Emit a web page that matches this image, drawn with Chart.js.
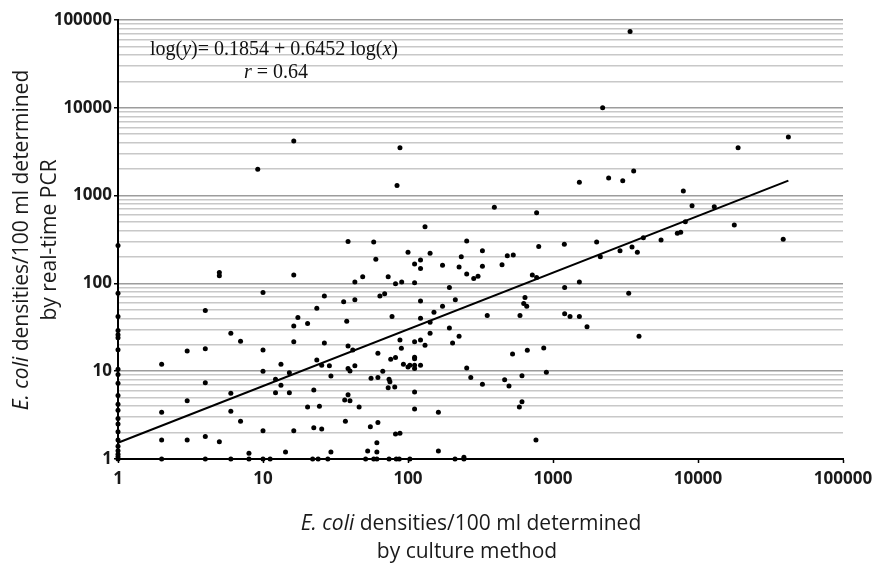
<!DOCTYPE html>
<html>
<head>
<meta charset="utf-8">
<script src="https://cdn.jsdelivr.net/npm/chart.js@4.4.1/dist/chart.umd.min.js"></script>
<style>
  html, body { margin: 0; padding: 0; background: #fff; }
  #wrap { width: 872px; height: 565px; position: relative; }
</style>
</head>
<body>
<div id="wrap"><canvas id="scatterChart"></canvas></div>
<script>
// E. coli densities/100 ml: culture method (x) vs real-time PCR (y)
var cultureDensity = [
  1, 1, 1, 1, 1, 1, 1, 1, 1, 1, 1, 1, 1, 1, 1, 1, 1, 1, 1, 1, 1, 1,
  2, 2, 2, 2, 3, 3, 3, 4, 4, 4, 4, 4, 5, 5, 5, 6, 6, 6, 6, 7, 7, 8, 8, 9.2,
  10, 10, 10, 10, 10, 11.2, 12.2, 12.2, 13.3, 13.3, 14.3, 15.2, 15.2, 16.3, 16.3, 16.3, 16.3, 16.3,
  17.4, 20.3, 20.3, 22.4, 22.4, 22, 23.5, 23.5, 24.5, 24, 25.4, 25.4, 26.5, 26.5, 28, 28.7, 29.4, 29.4,
  36, 36.6, 37, 37.8, 38.6, 38.6, 38.6, 38.6, 39.8, 39.8, 41.6, 43, 43, 43, 46, 48.7, 51, 52.7,
  55, 55.6, 58, 58, 60, 61, 61, 61, 62, 62, 62, 64, 69, 67, 73, 74, 75, 73, 81, 74,
  76, 82, 77.6, 82, 82, 83, 84, 87, 88, 88, 88, 90.5, 90, 93,
  100, 100, 103, 103, 111, 111, 111, 111, 111, 111, 111, 111, 111, 122, 122, 122, 122, 122, 122,
  131, 131, 142, 142, 142, 151, 162, 162, 173, 173, 193, 193, 203, 211, 212, 225, 225, 233, 243, 243,
  254, 254, 254, 271, 284, 304, 326, 326, 326, 352, 394, 445, 464, 497, 484, 532, 526, 586,
  611, 611, 592, 628, 641, 659, 665, 720, 771, 763, 771, 797, 863, 900,
  1197, 1203, 1203, 1310, 1520, 1520, 1520, 1716, 2000, 2120, 2200, 2420, 2898, 3027, 3327, 3400,
  3507, 3817, 3600, 3918, 4200, 5560, 7200, 7600, 7920, 8180, 9100, 12950, 17800, 18900, 38700, 42000
];
var pcrDensity = [
  270, 77, 42, 29, 26, 24, 17.6, 10.5, 9.2, 7.3, 5.3, 4.2, 3.6, 2.9, 2.5, 2.05, 1.65, 1.4, 1.24, 1.13, 1.06, 1,
  12, 3.4, 1.65, 1, 17, 4.6, 1.65, 49, 18, 7.4, 1.8, 1, 133, 122, 1.57, 27, 5.6, 3.5, 1, 22, 2.7, 1.16, 1, 2000,
  79, 17.4, 10, 2.1, 1, 1, 8.1, 5.7, 12, 6.9, 1.2, 9.6, 5.7, 4200, 125, 32.7, 21.7, 2.1,
  41, 35, 3.9, 6.1, 2.27, 1, 52, 13.4, 4.0, 1, 11.7, 2.2, 72, 21, 1, 11.5, 8.8, 1.2,
  62, 4.7, 2.7, 37, 300, 19.4, 10.7, 5.4, 10.05, 4.6, 17.4, 104, 65, 11.5, 3.9, 119, 1, 1.23,
  2.33, 8.3, 296, 1, 188, 1.53, 1.2, 1, 16, 8.5, 2.6, 72, 76, 10, 119, 8.1, 7.6, 6.5, 6.6, 1,
  13.7, 14.3, 42, 99, 1.93, 1, 1300, 1, 3500, 22.6, 1.96, 104, 18.2, 12,
  226, 11.2, 11.7, 1, 166, 102, 21.7, 14.4, 13.9, 11.7, 10.7, 5.8, 3.7, 185, 148, 63, 40, 22.6, 11.7,
  442, 19.7, 220, 36, 27, 47, 3.4, 1.23, 161, 55, 90, 31, 21, 1, 65, 154, 25, 201, 1, 1.05,
  304, 128, 10.9, 8.5, 114, 121, 236, 157, 7.1, 43, 735, 163, 8.0, 6.8, 207, 210, 15.7, 3.9,
  4.5, 8.9, 43, 59, 69, 55, 17.3, 125, 117, 1.65, 639, 264, 18.4, 9.7,
  279, 90, 45, 42, 1417, 104, 42, 32, 296, 201, 10000, 1585, 236, 1478, 77, 74000,
  260, 226, 1905, 25, 332, 312, 372, 382, 1128, 505, 767, 748, 462, 3500, 318, 4650
];
// regression line end points: log(y) = 0.1854 + 0.6452 log(x)
var fitX = [1, 42000];
var fitY = [1.53, 1480];
var decadeTicks = [1, 10, 100, 1000, 10000, 100000];

var points = cultureDensity.map(function (x, i) { return { x: x, y: pcrDensity[i] }; });
var fitLine = fitX.map(function (x, i) { return { x: x, y: fitY[i] }; });

// 1,2,...,9 of every decade for the horizontal grid
function minorTicks() {
  var out = [];
  decadeTicks.forEach(function (d, k) {
    if (k === decadeTicks.length - 1) { out.push({ value: d }); return; }
    for (var m = 1; m < 10; m++) out.push({ value: d * m });
  });
  return out;
}
function isDecade(v) { return decadeTicks.indexOf(v) !== -1; }

function drawRich(ctx, parts, cx, cy, size, family) {
  var total = 0;
  parts.forEach(function (p) {
    ctx.font = (p[1] ? 'italic ' : '') + size + 'px ' + family;
    total += ctx.measureText(p[0]).width;
  });
  var x = cx - total / 2;
  ctx.textAlign = 'left';
  ctx.textBaseline = 'middle';
  parts.forEach(function (p) {
    ctx.font = (p[1] ? 'italic ' : '') + size + 'px ' + family;
    ctx.fillText(p[0], x, cy);
    x += ctx.measureText(p[0]).width;
  });
}

var labelsPlugin = {
  id: 'labelsPlugin',
  afterDraw: function (chart) {
    var ctx = chart.ctx;
    ctx.save();
    ctx.fillStyle = '#1a1a1a';
    // x axis title
    drawRich(ctx, [['E. coli', true], [' densities/100 ml determined', false]], 471, 524, 21, '"Open Sans", sans-serif');
    drawRich(ctx, [['by culture method', false]], 467, 552, 21, '"Open Sans", sans-serif');
    // y axis title
    ctx.translate(22, 240);
    ctx.rotate(-Math.PI / 2);
    drawRich(ctx, [['E. coli', true], [' densities/100 ml determined', false]], 0, 0, 21, '"Open Sans", sans-serif');
    drawRich(ctx, [['by real-time PCR', false]], 0, 28, 21, '"Open Sans", sans-serif');
    ctx.restore();

    // regression annotation
    ctx.save();
    ctx.fillStyle = '#111';
    drawRich(ctx, [['log(', false], ['y', true], [')= 0.1854 + 0.6452 log(', false], ['x', true], [')', false]], 274, 50, 20, '"Liberation Serif", serif');
    drawRich(ctx, [['r', true], [' = 0.64', false]], 276, 73, 20, '"Liberation Serif", serif');
    ctx.restore();
  }
};

var ctx = document.getElementById("scatterChart").getContext("2d");
var chart = new Chart(ctx, {
  type: "scatter",
  data: {
    datasets: [
      {
        label: "samples",
        data: points,
        backgroundColor: "#000",
        borderWidth: 0,
        pointRadius: 2.5,
        clip: false,
      },
      {
        type: "line",
        label: "fit",
        data: fitLine,
        borderColor: "#000",
        borderWidth: 2,
        pointRadius: 0,
        fill: false,
        clip: false,
      },
    ],
  },
  options: {
    responsive: true,
    maintainAspectRatio: false,
    animation: false,
    layout: { padding: { top: 20, right: 29, left: 0, bottom: 0 } },
    plugins: { legend: { display: false }, tooltip: { enabled: false } },
    scales: {
      x: {
        type: "logarithmic",
        min: 1,
        max: 100000,
        afterBuildTicks: function (s) { s.ticks = decadeTicks.map(function (v) { return { value: v }; }); },
        afterFit: function (s) { s.height = 106; s.paddingLeft = 0; s.paddingRight = 0; },
        grid: { drawOnChartArea: false, drawTicks: true, tickLength: 4, color: "#000", tickWidth: 1.5 },
        border: { color: "#000", width: 2 },
        ticks: {
          autoSkip: false,
          maxRotation: 0,
          padding: 6,
          color: "#1a1a1a",
          font: { family: "Open Sans", size: 17, weight: "bold" },
          callback: function (v) { return String(v); },
        },
      },
      y: {
        type: "logarithmic",
        min: 1,
        max: 100000,
        afterBuildTicks: function (s) { s.ticks = minorTicks(); },
        afterFit: function (s) { s.width = 118; s.paddingTop = 0; s.paddingBottom = 0; },
        grid: {
          tickLength: 4,
          lineWidth: 1.5,
          color: function (c) { return c.tick && isDecade(c.tick.value) ? "#9c9c9c" : "#c8c8c8"; },
          tickColor: function (c) { return c.tick && isDecade(c.tick.value) ? "#000" : "rgba(0,0,0,0)"; },
        },
        border: { color: "#000", width: 2 },
        ticks: {
          autoSkip: false,
          padding: 2,
          color: "#1a1a1a",
          font: { family: "Open Sans", size: 17, weight: "bold" },
          callback: function (v) { return isDecade(v) ? String(v) : ""; },
        },
      },
    },
  },
  plugins: [labelsPlugin],
});
</script>
</body>
</html>
